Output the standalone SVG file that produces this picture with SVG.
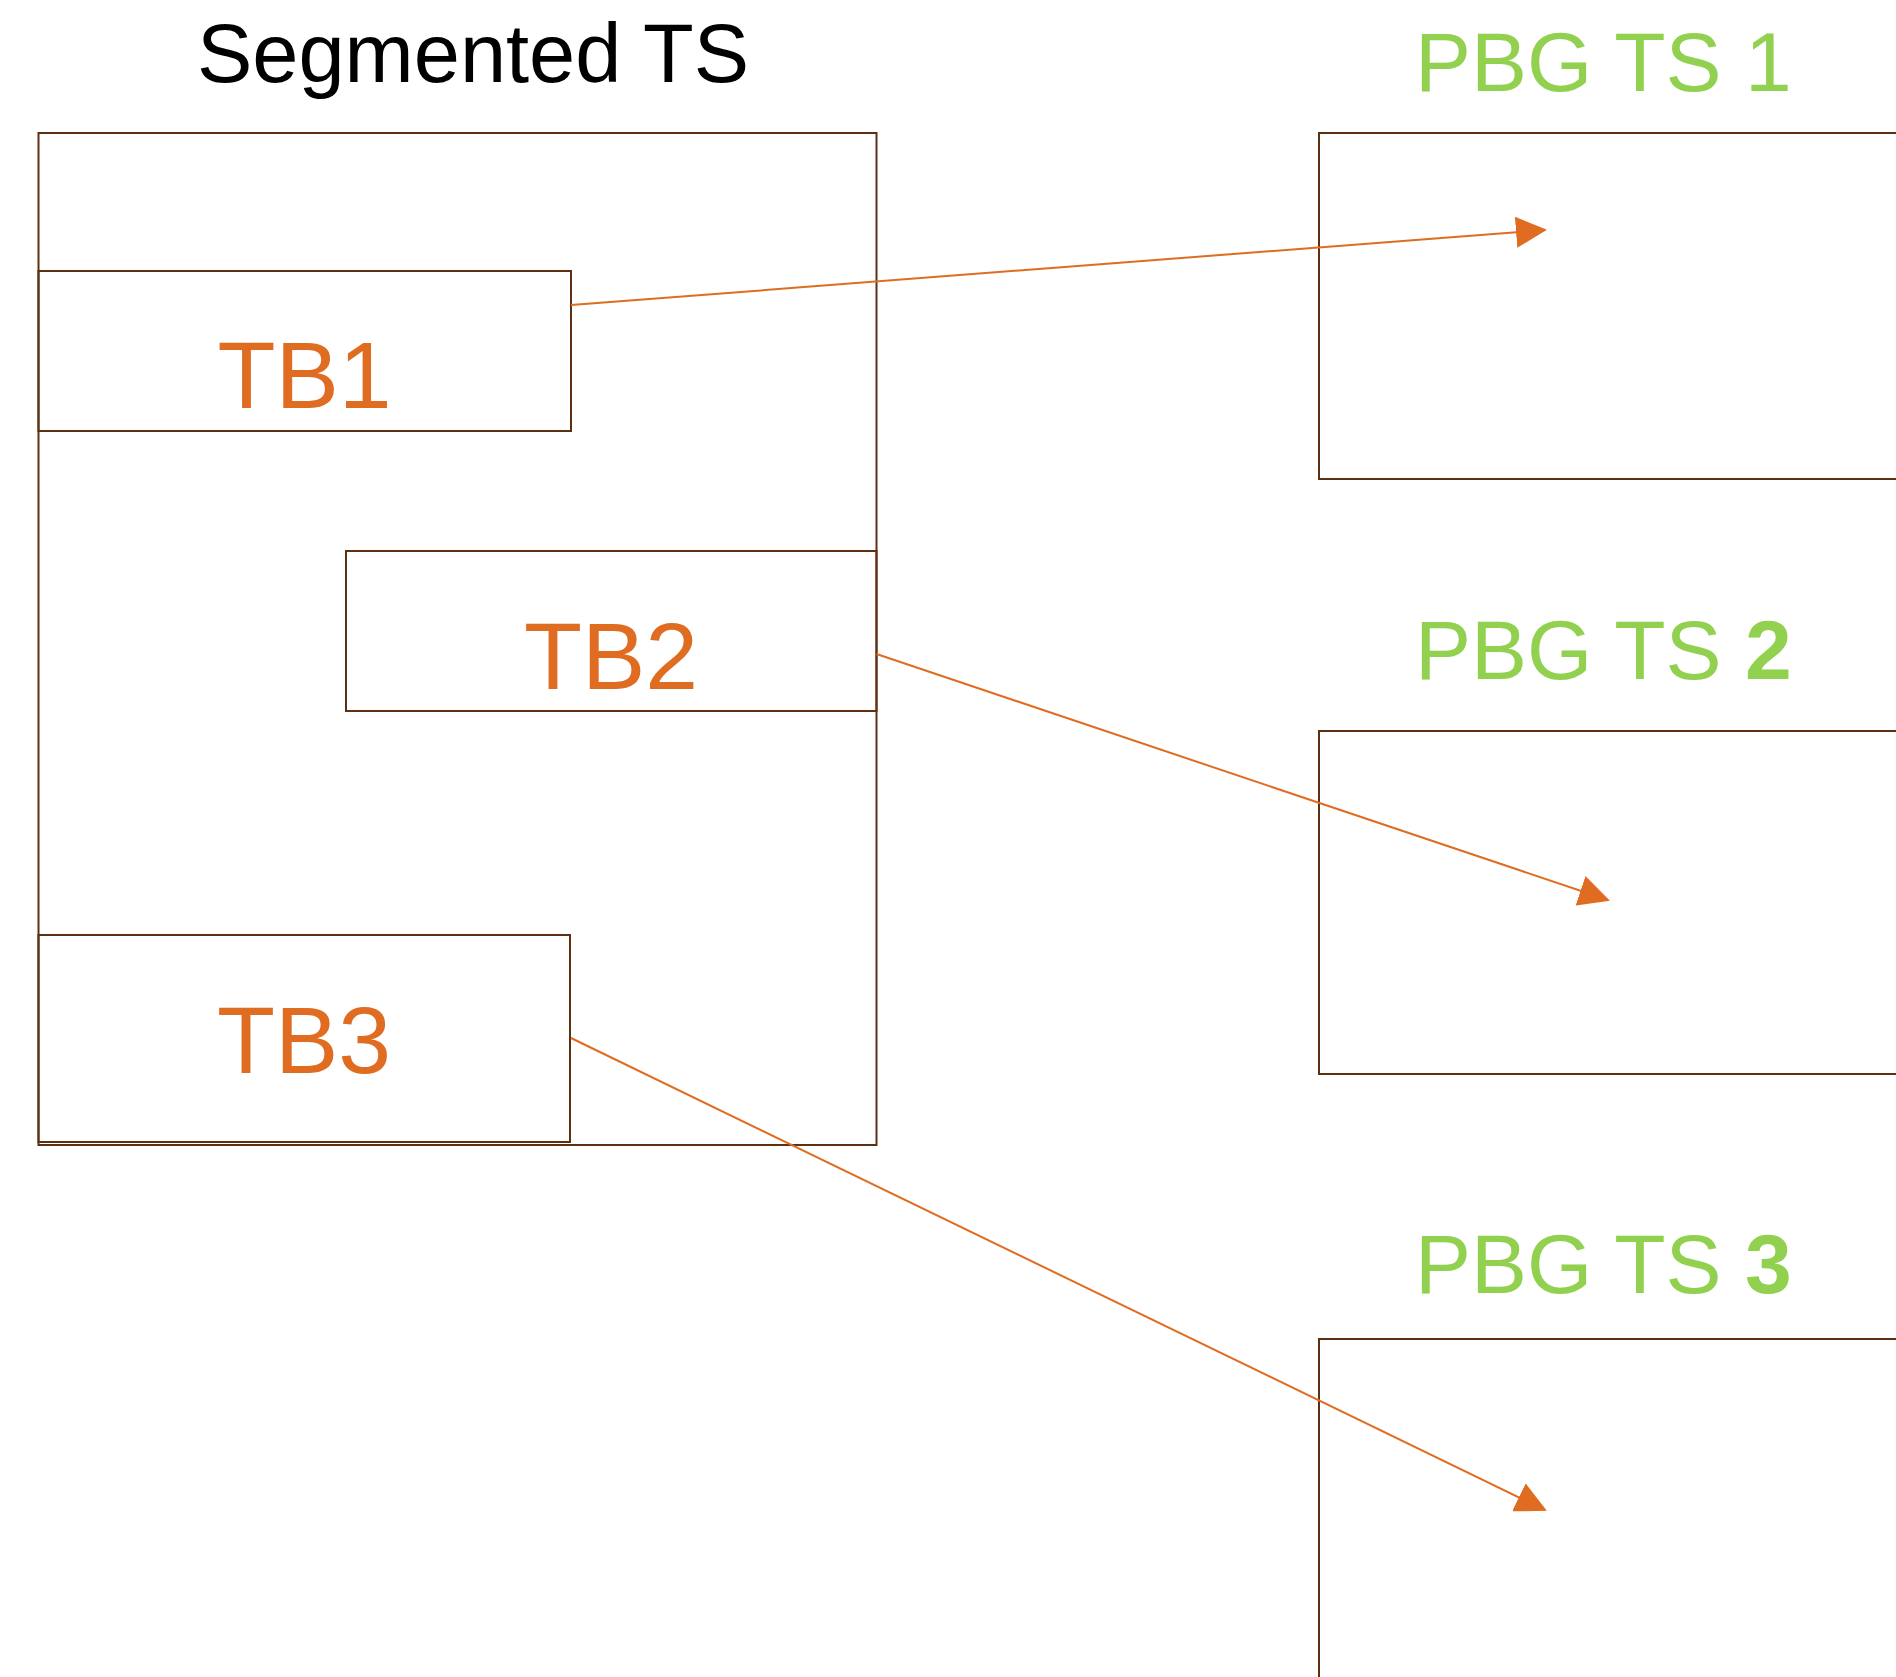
<svg xmlns="http://www.w3.org/2000/svg" width="1896" height="1677" viewBox="0 0 1896 1677">
<style>
.box{fill:none;stroke:#5E3012;stroke-width:2}
.tb{font-family:"Liberation Sans",Arial,sans-serif;font-size:95px;fill:#E06C22;text-anchor:middle}
.pbg{font-family:"Liberation Sans",Arial,sans-serif;font-size:84px;fill:#92D050}
.title{font-family:"Liberation Sans",Arial,sans-serif;font-size:83px;fill:#000;text-anchor:middle}
.conn{fill:none;stroke:#E06C22;stroke-width:2}
</style>
<defs>
<marker id="arr" viewBox="0 0 31 31" refX="29" refY="15.5" markerWidth="31" markerHeight="31" markerUnits="userSpaceOnUse" orient="auto">
<path d="M0,0 L31,15.5 L0,31 z" fill="#E06C22"/>
</marker>
</defs>
<rect width="1896" height="1677" fill="#fff"/>
<g id="segmented-ts">
<text class="title" x="473" y="82">Segmented TS</text>
<rect class="box" x="38.5" y="133" width="838" height="1012"/>
</g>
<g id="tb1">
<rect class="box" x="38.5" y="271" width="532.5" height="160"/>
<text class="tb" x="304.5" y="408">TB1</text>
</g>
<g id="tb2">
<rect class="box" x="346" y="551" width="530.5" height="160"/>
<text class="tb" x="611" y="689">TB2</text>
</g>
<g id="tb3">
<rect class="box" x="38.5" y="935" width="531.5" height="207"/>
<text class="tb" x="304" y="1073">TB3</text>
</g>
<g id="pbg1">
<text class="pbg" x="1415" y="91">PBG TS 1</text>
<rect class="box" x="1319" y="133" width="620" height="346"/>
</g>
<g id="pbg2">
<text class="pbg" x="1415" y="679">PBG TS <tspan font-weight="bold">2</tspan></text>
<rect class="box" x="1319" y="731" width="620" height="343"/>
</g>
<g id="pbg3">
<text class="pbg" x="1415" y="1293">PBG TS <tspan font-weight="bold">3</tspan></text>
<rect class="box" x="1319" y="1339" width="620" height="400"/>
</g>
<g id="connectors">
<line class="conn" x1="571" y1="305" x2="1545" y2="230" marker-end="url(#arr)"/>
<line class="conn" x1="876.5" y1="654" x2="1608" y2="900" marker-end="url(#arr)"/>
<line class="conn" x1="571" y1="1038" x2="1545" y2="1510" marker-end="url(#arr)"/>
</g>
</svg>
